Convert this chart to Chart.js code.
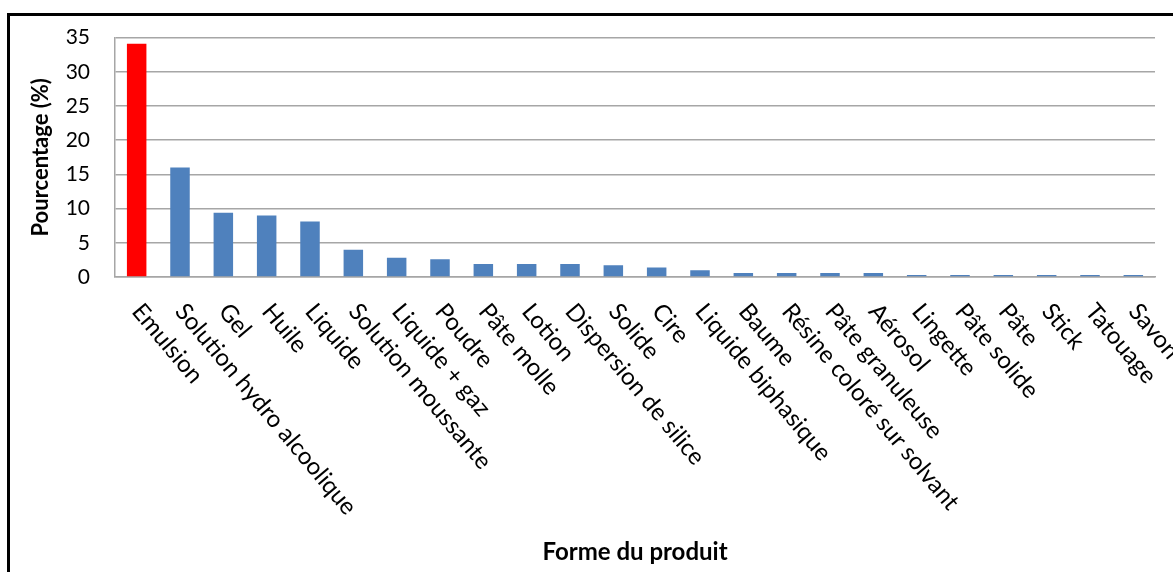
<!DOCTYPE html>
<html lang="fr">
<head>
<meta charset="utf-8">
<title>Forme du produit</title>
<script src="https://cdn.jsdelivr.net/npm/chart.js@4.4.1/dist/chart.umd.min.js"></script>
<style>
    html, body { margin: 0; padding: 0; background: #fff; overflow: hidden; }
    #wrap { position: relative; width: 1173px; height: 572px; }
    #frame {
        position: absolute; left: 7px; top: 13px; width: 1200px; height: 600px;
        border-top: 3px solid #000; border-left: 3px solid #000; pointer-events: none;
    }
</style>
</head>
<body>
<div id="wrap">
    <canvas id="chart" width="1173" height="572"></canvas>
    <div id="frame"></div>
</div>
<script>
// Data
const categories = [
    'Emulsion', 'Solution hydro alcoolique', 'Gel', 'Huile', 'Liquide',
    'Solution moussante', 'Liquide + gaz', 'Poudre', 'Pâte molle', 'Lotion',
    'Dispersion de silice', 'Solide', 'Cire', 'Liquide biphasique', 'Baume',
    'Résine coloré sur solvant', 'Pâte granuleuse', 'Aérosol', 'Lingette',
    'Pâte solide', 'Pâte', 'Stick', 'Tatouage', 'Savon'
];
const percentages = [
    34.1, 16.0, 9.4, 9.0, 8.1,
    4.0, 2.8, 2.6, 1.9, 1.9,
    1.9, 1.7, 1.4, 1.0, 0.6,
    0.6, 0.6, 0.6, 0.3,
    0.3, 0.3, 0.3, 0.3, 0.3
];
const yTicks = [0, 5, 10, 15, 20, 25, 30, 35];
const highlighted = ['Emulsion'];

const barColors = categories.map(c => highlighted.includes(c) ? '#ff0000' : '#4f81bd');

Chart.defaults.font.family = 'Lato, "Open Sans", sans-serif';
Chart.defaults.color = '#000';

// x labels go down to the right, so they are drawn here instead of by the scale
const slantedLabels = {
    id: 'slantedLabels',
    afterDraw(chart) {
        const xScale = chart.scales.x;
        const ctx = chart.ctx;
        ctx.save();
        ctx.font = '24px Lato, "Open Sans", sans-serif';
        ctx.fillStyle = '#000';
        ctx.textAlign = 'left';
        ctx.textBaseline = 'middle';
        categories.forEach((label, i) => {
            ctx.save();
            ctx.translate(xScale.getPixelForValue(i), xScale.top + 30);
            ctx.rotate(50 * Math.PI / 180);
            ctx.fillText(label, 0, 0);
            ctx.restore();
        });
        ctx.restore();
    }
};

new Chart(document.getElementById('chart').getContext('2d'), {
    type: 'bar',
    data: {
        labels: categories,
        datasets: [{
            data: percentages,
            backgroundColor: barColors,
            borderWidth: 0,
            barPercentage: 0.45,
            categoryPercentage: 1
        }]
    },
    options: {
        responsive: false,
        animation: false,
        layout: { padding: { top: 35, right: 18, left: 0, bottom: 0 } },
        plugins: {
            legend: { display: false },
            tooltip: { enabled: false }
        },
        scales: {
            x: {
                grid: { display: false, drawTicks: false },
                border: { display: true, color: '#a6a6a6', width: 1.5 },
                ticks: { display: false },
                title: {
                    display: true,
                    text: 'Forme du produit',
                    font: { size: 24, weight: 'bold' },
                    padding: { top: 0, bottom: 5 }
                },
                afterFit: (scale) => { scale.height = 295; }
            },
            y: {
                min: 0,
                max: 35,
                afterBuildTicks: (scale) => { scale.ticks = yTicks.map(v => ({ value: v })); },
                grid: { color: '#a6a6a6', lineWidth: 1.5, drawTicks: false },
                border: { display: true, color: '#a6a6a6', width: 1.5 },
                ticks: { padding: 25, font: { size: 21 } },
                title: {
                    display: true,
                    text: 'Pourcentage (%)',
                    font: { size: 22, weight: 'bold' },
                    padding: { top: 28, bottom: 0 }
                },
                afterFit: (scale) => { scale.width = 115; }
            }
        }
    },
    plugins: [slantedLabels]
});
</script>
</body>
</html>
